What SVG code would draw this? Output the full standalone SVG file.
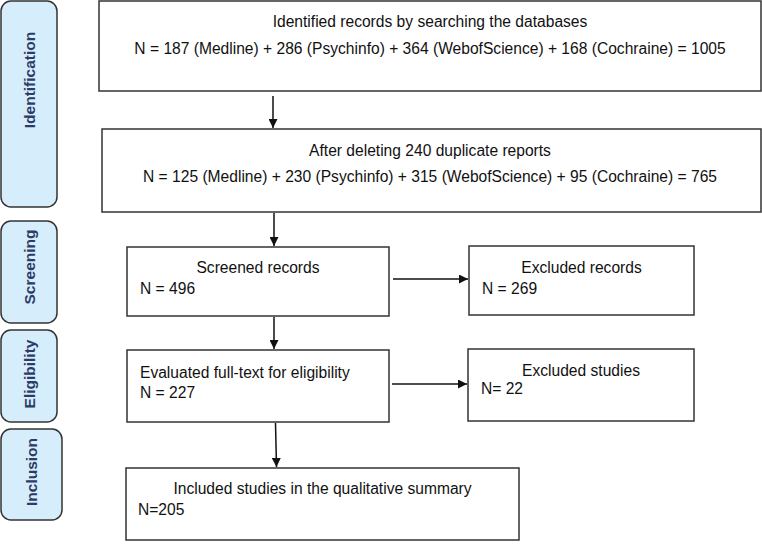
<svg xmlns="http://www.w3.org/2000/svg" width="762" height="545" viewBox="0 0 762 545">
<style>
.box{fill:#fff;stroke:#333;stroke-width:1.5}
.stage{fill:#d6eefc;stroke:#333;stroke-width:1.5}
.t{font-family:"Liberation Sans",Arial,sans-serif;font-size:15.6px;fill:#111}
.c{text-anchor:middle}
.lbl{font-family:"Liberation Sans",Arial,sans-serif;font-size:15.5px;font-weight:bold;fill:#2d3b66;text-anchor:middle}
.arr{stroke:#111;stroke-width:1.5;fill:none;marker-end:url(#ah)}
</style>
<defs>
<marker id="ah" markerUnits="userSpaceOnUse" markerWidth="9" markerHeight="9" refX="9" refY="4.5" orient="auto">
<path d="M0,0 L9,4.5 L0,9 z" fill="#111"/>
</marker>
</defs>
<g id="stage-identification">
<rect class="stage" x="1" y="1" width="56" height="206" rx="10"/>
<text class="lbl" transform="translate(35,80) rotate(-90)">Identification</text>
</g>
<g id="stage-screening">
<rect class="stage" x="1" y="221" width="56" height="102" rx="10"/>
<text class="lbl" transform="translate(35,267) rotate(-90)">Screening</text>
</g>
<g id="stage-eligibility">
<rect class="stage" x="1" y="330" width="56" height="92" rx="10"/>
<text class="lbl" transform="translate(35,374) rotate(-90)">Eligibility</text>
</g>
<g id="stage-inclusion">
<rect class="stage" x="1" y="429" width="61" height="91" rx="10"/>
<text class="lbl" transform="translate(37,472) rotate(-90)">Inclusion</text>
</g>
<g id="identified">
<rect class="box" x="99" y="1" width="662" height="90"/>
<text class="t c" x="430" y="27">Identified records by searching the databases</text>
<text class="t c" x="430" y="54">N = 187 (Medline) + 286 (Psychinfo) + 364 (WebofScience) + 168 (Cochraine) = 1005</text>
</g>
<g id="deduplicated">
<rect class="box" x="102" y="129" width="659" height="83"/>
<text class="t c" x="430" y="156">After deleting 240 duplicate reports</text>
<text class="t c" x="430" y="182">N = 125 (Medline) + 230 (Psychinfo) + 315 (WebofScience) + 95 (Cochraine) = 765</text>
</g>
<g id="screened">
<rect class="box" x="127" y="247" width="262" height="69"/>
<text class="t c" x="258" y="273">Screened records</text>
<text class="t" x="140" y="294">N = 496</text>
</g>
<g id="excluded-records">
<rect class="box" x="469" y="246" width="225" height="69"/>
<text class="t c" x="581.5" y="273">Excluded records</text>
<text class="t" x="482" y="294">N = 269</text>
</g>
<g id="fulltext">
<rect class="box" x="127" y="350" width="262" height="72"/>
<text class="t" x="140" y="378">Evaluated full-text for eligibility</text>
<text class="t" x="140" y="398">N = 227</text>
</g>
<g id="excluded-studies">
<rect class="box" x="468" y="349" width="226" height="72"/>
<text class="t c" x="581" y="376">Excluded studies</text>
<text class="t" x="481" y="394">N= 22</text>
</g>
<g id="included">
<rect class="box" x="126" y="468" width="393" height="72"/>
<text class="t c" x="322.5" y="494">Included studies in the qualitative summary</text>
<text class="t" x="138" y="515">N=205</text>
</g>
<g id="connectors">
<line class="arr" x1="273" y1="96" x2="273" y2="128"/>
<line class="arr" x1="274" y1="213" x2="274" y2="246"/>
<line class="arr" x1="274" y1="317" x2="274" y2="349"/>
<line class="arr" x1="275.5" y1="423" x2="276.5" y2="467"/>
<line class="arr" x1="393" y1="279" x2="468" y2="279"/>
<line class="arr" x1="392" y1="384" x2="467" y2="384"/>
</g>
</svg>
